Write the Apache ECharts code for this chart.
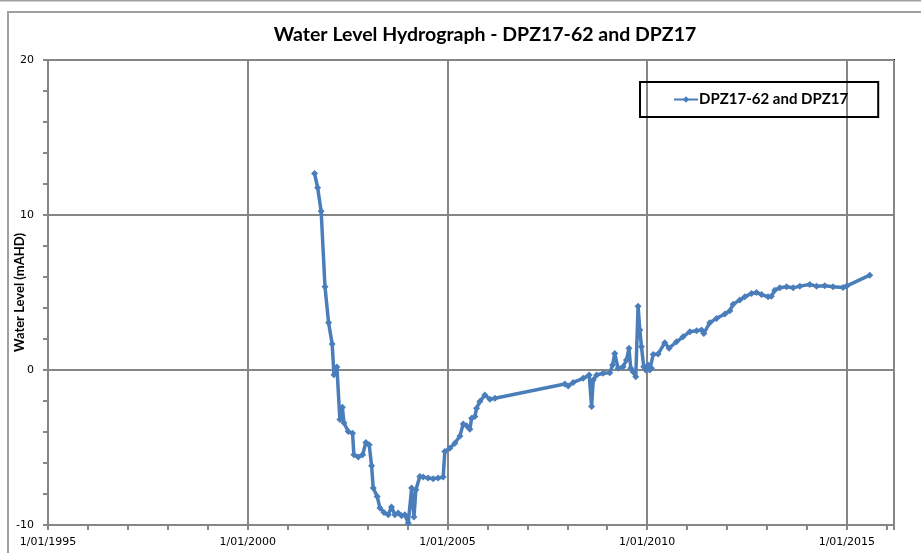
<!DOCTYPE html>
<html>
<head>
<meta charset="utf-8">
<script src="https://cdn.jsdelivr.net/npm/echarts@6/dist/echarts.min.js"></script>
<style>
  html, body { margin: 0; padding: 0; background: #fff; }
  #main { width: 921px; height: 553px; }
</style>
</head>
<body>
<div id="main"></div>
<script>
// 数据
const seriesName = 'DPZ17-62 and DPZ17';
const dates = [
  '2001-09-04', '2001-10-02', '2001-11-03', '2001-12-08', '2002-01-10', '2002-02-12', '2002-02-28', '2002-03-27',
  '2002-04-23', '2002-05-16', '2002-05-30', '2002-07-08', '2002-08-17', '2002-08-29', '2002-10-08', '2002-11-17',
  '2002-12-17', '2003-01-16', '2003-02-07', '2003-02-22', '2003-03-30', '2003-04-24', '2003-05-31', '2003-07-09',
  '2003-08-08', '2003-09-08', '2003-10-08', '2003-11-08', '2003-12-08', '2004-01-08', '2004-02-08', '2004-02-29',
  '2004-03-18', '2004-04-23', '2004-05-24', '2004-07-08', '2004-08-23', '2004-10-08', '2004-11-23', '2004-12-08',
  '2005-01-23', '2005-03-10', '2005-04-25', '2005-05-25', '2005-06-25', '2005-07-25', '2005-08-10', '2005-09-09',
  '2005-09-24', '2005-10-24', '2005-12-09', '2006-01-24', '2006-03-11', '2007-12-10', '2008-01-09', '2008-02-24',
  '2008-05-26', '2008-07-20', '2008-08-11', '2008-08-26', '2008-09-26', '2008-11-25', '2009-01-25', '2009-02-19',
  '2009-03-11', '2009-04-10', '2009-05-26', '2009-06-26', '2009-07-19', '2009-08-04', '2009-08-25', '2009-09-19',
  '2009-10-10', '2009-10-26', '2009-11-10', '2009-12-01', '2009-12-19', '2010-01-10', '2010-01-25', '2010-02-10',
  '2010-02-25', '2010-04-11', '2010-06-11', '2010-07-20', '2010-09-26', '2010-11-25', '2011-01-26', '2011-03-28',
  '2011-05-13', '2011-06-03', '2011-07-27', '2011-09-27', '2011-12-12', '2012-01-27', '2012-02-26', '2012-04-27',
  '2012-06-12', '2012-08-12', '2012-09-27', '2012-11-12', '2013-01-11', '2013-02-11', '2013-03-13', '2013-04-28',
  '2013-06-29', '2013-08-28', '2013-10-28', '2014-01-27', '2014-03-30', '2014-06-13', '2014-08-28', '2014-11-27',
  '2014-12-28', '2015-07-29'
];
const levels = [
  12.67, 11.76, 10.24, 5.37, 3.05, 1.67, -0.3, 0.2,
  -3.2, -2.4, -3.4, -3.97, -4.08, -5.47, -5.62, -5.47,
  -4.68, -4.83, -6.18, -7.62, -8.16, -8.9, -9.19, -9.34,
  -8.84, -9.34, -9.23, -9.4, -9.34, -9.87, -7.62, -9.49,
  -7.73, -6.87, -6.91, -6.97, -7.02, -6.97, -6.91, -5.26,
  -5.05, -4.72, -4.25, -3.48, -3.6, -3.82, -3.11, -3.0,
  -2.47, -2.04, -1.61, -1.89, -1.82, -0.9, -1.03, -0.8,
  -0.54, -0.32, -2.36, -0.64, -0.32, -0.21, -0.17, 0.32,
  1.07, 0.11, 0.21, 0.64, 1.4, 0.11, -0.11, -0.43,
  4.12, 2.58, 1.5, 0.21, 0, 0.32, 0, 0.11,
  1.0, 1.03, 1.76, 1.4, 1.82, 2.14, 2.47, 2.53,
  2.58, 2.36, 3.05, 3.33, 3.61, 3.82, 4.25, 4.51,
  4.72, 4.94, 5.0, 4.87, 4.72, 4.76, 5.15, 5.3,
  5.37, 5.3, 5.41, 5.52, 5.41, 5.43, 5.37, 5.32,
  5.41, 6.12
];
// 坐标轴范围（年份）
const xMin = 1995;
const xMax = 2016.18;
const yMin = -10;
const yMax = 20;

// 日期转成小数年份
function toYear(s) {
  const p = s.split('-').map(Number);
  const start = Date.UTC(p[0], 0, 1);
  const end = Date.UTC(p[0] + 1, 0, 1);
  return p[0] + (Date.UTC(p[0], p[1] - 1, p[2]) - start) / (end - start);
}
const points = dates.map((d, i) => [toYear(d), levels[i]]);

const gridColor = '#868686';
const labelFont = 'DejaVu Sans';

var myChart = echarts.init(document.getElementById('main'));
var option = {
  backgroundColor: '#fff',
  animation: false,
  title: {
    text: 'Water Level Hydrograph - DPZ17-62 and DPZ17',
    left: 480,
    top: 20,
    textAlign: 'center',
    textStyle: { fontFamily: 'Lato', fontWeight: 'bold', fontSize: 19.5, color: '#000' }
  },
  legend: {
    data: [seriesName],
    left: 640,
    top: 82,
    padding: [10, 30, 10, 33],
    borderColor: '#000',
    borderWidth: 2,
    itemWidth: 24,
    itemHeight: 8,
    itemGap: 0,
    textStyle: { fontFamily: 'Lato', fontWeight: 'bold', fontSize: 15, color: '#000', padding: [0, 0, 0, -4] }
  },
  graphic: [
    { type: 'line', shape: { x1: 0, y1: 0.5, x2: 921, y2: 0.5 }, style: { stroke: '#a0a0a0', lineWidth: 2 } },
    { type: 'rect', shape: { x: 8, y: 12, width: 940, height: 560 }, style: { fill: null, stroke: '#a0a0a0', lineWidth: 2 } }
  ],
  grid: {
    left: 48,
    top: 60,
    right: 27,
    bottom: 28,
    containLabel: false,
    outerBoundsMode: 'none',
    show: true,
    borderColor: '#000',
    borderWidth: 2
  },
  xAxis: [{
    type: 'value',
    min: xMin,
    max: xMax,
    interval: 1,
    axisLine: { show: true, onZero: false, lineStyle: { color: gridColor, width: 2 } },
    axisTick: { show: true, length: 5, lineStyle: { color: gridColor, width: 2 } },
    axisLabel: { show: false },
    splitLine: { show: false }
  }, {
    type: 'value',
    position: 'bottom',
    min: xMin,
    max: xMax,
    interval: 5,
    axisLine: { show: false, onZero: false },
    axisTick: { show: false },
    axisLabel: {
      margin: 12,
      fontFamily: labelFont,
      fontSize: 11,
      color: '#000',
      formatter: v => (Math.abs(v - Math.round(v)) < 1e-6 && Math.round(v) % 5 === 0) ? '1/01/' + Math.round(v) : ''
    },
    splitLine: { show: true, lineStyle: { color: gridColor, width: 2 } }
  }],
  yAxis: {
    type: 'value',
    min: yMin,
    max: yMax,
    interval: 10,
    name: 'Water Level (mAHD)',
    nameLocation: 'middle',
    nameGap: 22,
    nameMoveOverlap: false,
    nameTextStyle: { fontFamily: 'Lato', fontWeight: 'bold', fontSize: 13, color: '#000' },
    axisLine: { show: true, onZero: false, lineStyle: { color: gridColor, width: 2 } },
    axisTick: { show: true, length: 5, lineStyle: { color: gridColor, width: 2 } },
    minorTick: { show: true, splitNumber: 5, length: 5, lineStyle: { color: gridColor, width: 2 } },
    axisLabel: { margin: 14, fontFamily: labelFont, fontSize: 11, color: '#000' },
    splitLine: { show: true, lineStyle: { color: gridColor, width: 2 } }
  },
  series: [{
    name: seriesName,
    type: 'line',
    xAxisIndex: 0,
    data: points,
    symbol: 'diamond',
    symbolSize: 7,
    color: '#4A7EBB',
    lineStyle: { width: 3.5, color: '#4A7EBB' },
    itemStyle: { color: '#4A7EBB' }
  }]
};
myChart.setOption(option);
</script>
</body>
</html>
